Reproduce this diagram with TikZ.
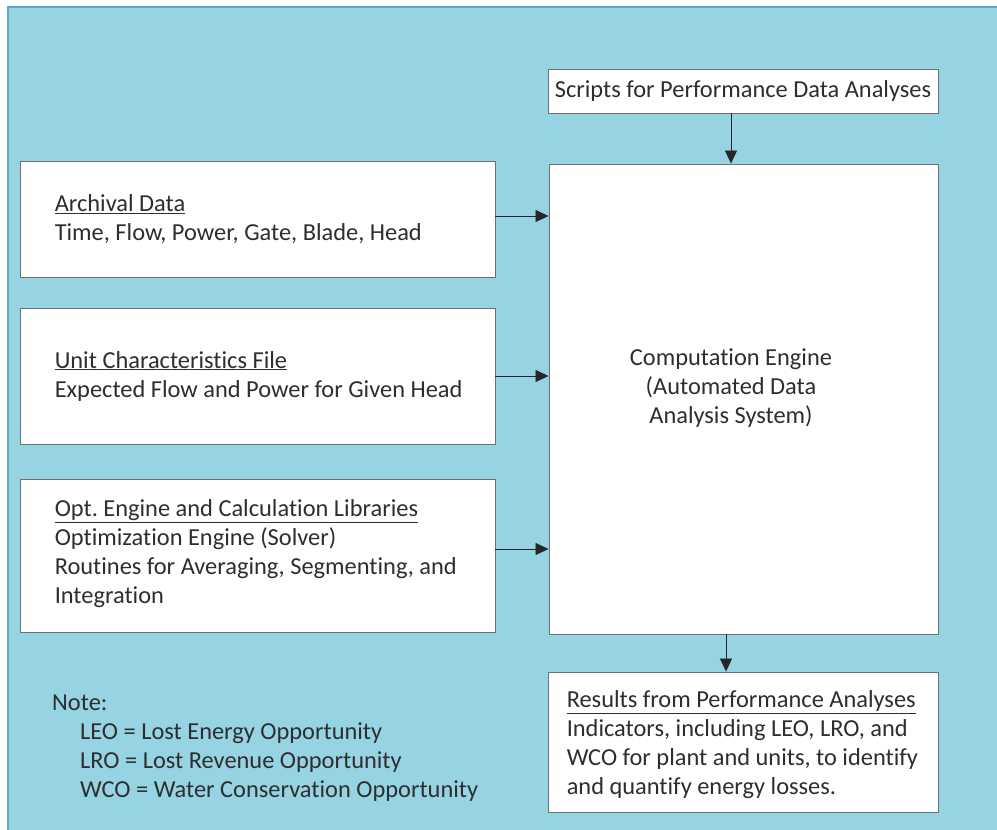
\documentclass[tikz,border=0pt]{standalone}
\usepackage{fontspec}
\setmainfont{Carlito}[RawFeature={-liga;-clig;-calt;-dlig}]
\frenchspacing
\usetikzlibrary{positioning, arrows.meta}
\definecolor{panelblue}{HTML}{96D3E3}
\definecolor{frameblue}{HTML}{5FA5C8}
\definecolor{boxline}{HTML}{707070}
\definecolor{inktext}{HTML}{2E2E2E}

\tikzset{
  panel/.style={draw=boxline, fill=white, line width=0.9pt, rectangle, inner sep=0pt},
  boxtext/.style={anchor=west, align=left, inner sep=0pt, text=inktext,
    font=\fontsize{24.4}{29}\selectfont},
  flow/.style={-{Triangle[length=13pt,width=12pt]}, line width=0.8pt, black!85},
}

\begin{document}
\begin{tikzpicture}[x=1pt, y=-1pt]
   \useasboundingbox[fill=white] (0,0) rectangle (997,830);
   \draw[frameblue, fill=panelblue, line width=1.2pt] (8,7) rectangle (1003,836);

   % right column
   \node[panel, minimum width=390pt, minimum height=44pt, text=inktext,
     font=\fontsize{24.4}{29}\selectfont] (scripts) at (743,91) {Scripts for Performance Data Analyses};
   \node[panel, minimum width=389pt, minimum height=470pt] (engine) at (743.5,399) {};
   \node[boxtext, anchor=center, align=center] (engine text) at (731,388)
     {Computation Engine\\(Automated Data\\Analysis System)};
   \node[panel, minimum width=390pt, minimum height=140pt] (results) at (743,742) {};
   \node[boxtext] (results text) at ([xshift=19pt, yshift=-3pt]results.west)
     {\underline{Results from Performance Analyses}\\Indicators, including LEO, LRO, and\\WCO for plant and units, to identify\\and quantify energy losses.};

   % left column
   \node[panel, minimum width=475pt, minimum height=116pt] (archival) at (257.5,219) {};
   \node[boxtext] (archival text) at ([xshift=35pt]archival.west)
     {\underline{Archival Data}\\Time, Flow, Power, Gate, Blade, Head};
   \node[panel, minimum width=475pt, minimum height=136pt] (unit) at (257.5,376) {};
   \node[boxtext] (unit text) at ([xshift=35pt]unit.west)
     {\underline{Unit Characteristics File}\\Expected Flow and Power for Given Head};
   \node[panel, minimum width=475pt, minimum height=153pt] (opt) at (257.5,555.5) {};
   \node[boxtext] (opt text) at ([xshift=35pt, yshift=2pt]opt.west)
     {\underline{Opt. Engine and Calculation Libraries}\\Optimization Engine (Solver)\\Routines for Averaging, Segmenting, and\\Integration};

   % note
   \node[boxtext, anchor=north west] (note) at (52,695)
     {Note:\\\hspace*{28pt}LEO = Lost Energy Opportunity\\\hspace*{28pt}LRO = Lost Revenue Opportunity\\\hspace*{28pt}WCO = Water Conservation Opportunity};

   \draw[flow] ([xshift=-12pt]scripts.south) -- ([xshift=-12pt]scripts.south |- engine.north);
   \draw[flow] ([yshift=3pt]archival.east) -- ([yshift=3pt]archival.east -| engine.west);
   \draw[flow] (unit.east) -- (unit.east -| engine.west);
   \draw[flow] ([yshift=6.5pt]opt.east) -- ([yshift=6.5pt]opt.east -| engine.west);
   \draw[flow] ([xshift=-17.5pt]engine.south) -- ([xshift=-17.5pt]engine.south |- results.north);
\end{tikzpicture}
\end{document}
